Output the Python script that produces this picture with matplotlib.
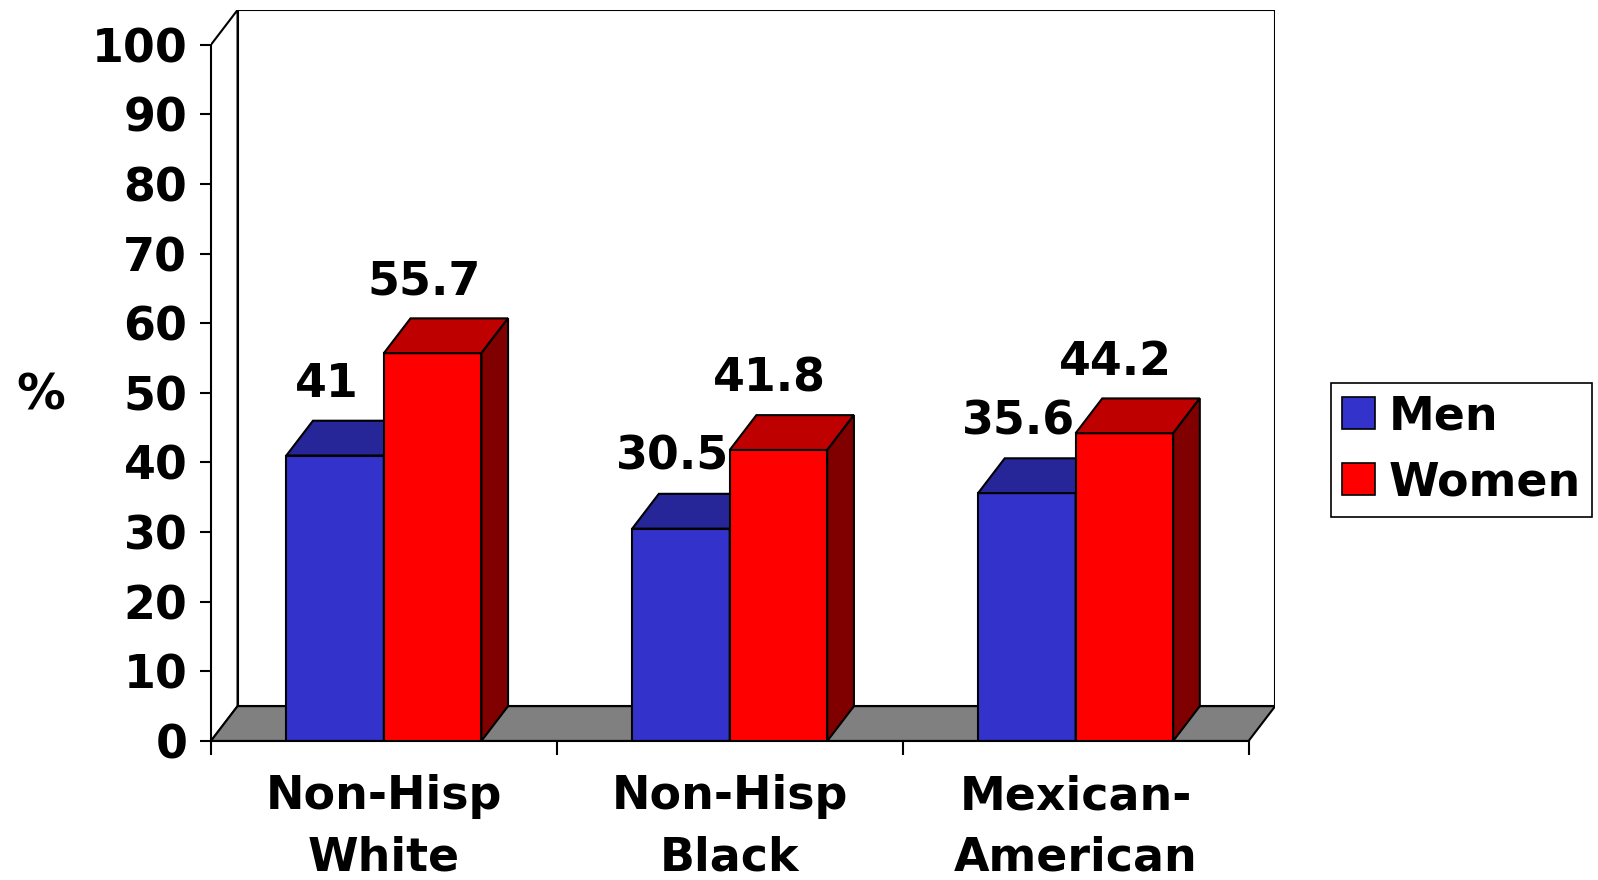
import matplotlib
matplotlib.use("Agg")
import matplotlib.pyplot as plt
from matplotlib.patches import Polygon, Rectangle

groups = ["Non-Hisp\nWhite", "Non-Hisp\nBlack", "Mexican-\nAmerican"]
series = ["Men", "Women"]
men = [41, 30.5, 35.6]
women = [55.7, 41.8, 44.2]
yticks = [0, 10, 20, 30, 40, 50, 60, 70, 80, 90, 100]

front = {"Men": "#3333CC", "Women": "#FF0000"}
top = {"Men": "#262699", "Women": "#BF0000"}
side = {"Men": "#1A1A66", "Women": "#800000"}

plt.rcParams["font.family"] = "DejaVu Sans"
plt.rcParams["font.weight"] = "bold"
fs = 33

fig = plt.figure(figsize=(15.98, 8.8), dpi=100)
ax = fig.add_axes([0.132, 0.158, 0.666, 0.8307])

n = len(groups)
dx, dy = 0.077, 5.0   # depth offset of the 3D look
ymax = 100
ax.set_xlim(0, n + dx)
ax.set_ylim(0, ymax + dy)
lw = 1.5

# walls and floor
ax.add_patch(Polygon([(0, 0), (dx, dy), (dx, ymax + dy), (0, ymax)],
                     closed=True, facecolor="white", edgecolor="black", lw=lw, zorder=0))
ax.add_patch(Rectangle((dx, dy), n, ymax, facecolor="white", edgecolor="black", lw=lw, zorder=0))
ax.add_patch(Polygon([(0, 0), (n, 0), (n + dx, dy), (dx, dy)],
                     closed=True, facecolor="#808080", edgecolor="black", lw=lw, zorder=0.5))

w = 0.282
gap = (1 - 2 * w) / 2

def bar3d(x, v, key, z):
    ax.add_patch(Rectangle((x, 0), w, v, facecolor=front[key], edgecolor="black", lw=lw, zorder=z))
    ax.add_patch(Polygon([(x, v), (x + w, v), (x + w + dx, v + dy), (x + dx, v + dy)],
                         closed=True, facecolor=top[key], edgecolor="black", lw=lw, zorder=z))
    ax.add_patch(Polygon([(x + w, 0), (x + w + dx, dy), (x + w + dx, v + dy), (x + w, v)],
                         closed=True, facecolor=side[key], edgecolor="black", lw=lw, zorder=z))
    ax.text(x + w / 2 - 0.025, v + dy + 2.0, f"{v:g}", ha="center", va="bottom",
            fontsize=fs, fontweight="bold", zorder=5)

for i in range(n):
    bar3d(i + gap, men[i], "Men", 2)
    bar3d(i + gap + w, women[i], "Women", 3)

# axes styling
for s in ["top", "right"]:
    ax.spines[s].set_visible(False)
ax.spines["left"].set_bounds(0, ymax)
ax.spines["bottom"].set_bounds(0, n)
ax.spines["left"].set_linewidth(lw)
ax.spines["bottom"].set_linewidth(lw)
ax.set_yticks(yticks)
ax.set_yticklabels([str(t) for t in yticks], fontsize=fs, fontweight="bold")
ax.tick_params(axis="y", length=8, width=lw, pad=9)
ax.set_xticks([i + 0.5 for i in range(n)])
ax.set_xticklabels(groups, fontsize=fs, fontweight="bold", linespacing=1.45)
ax.set_xticks(range(n + 1), minor=True)
ax.tick_params(axis="x", which="major", length=0, pad=24)
ax.tick_params(axis="x", which="minor", length=10, width=lw)

fig.text(41 / 1598, 1 - 395 / 880, "%", fontsize=35, fontweight="bold", ha="center", va="center")

handles = [Rectangle((0, 0), 1, 1, facecolor=front[k], edgecolor="black", lw=1.2) for k in series]
leg = fig.legend(handles, series, loc="upper left", bbox_to_anchor=(1331 / 1598, 1 - 383 / 880),
                 prop={"size": fs, "weight": "bold"}, handlelength=0.7, handleheight=0.7,
                 handletextpad=0.3, borderpad=0.25, labelspacing=0.45, borderaxespad=0,
                 fancybox=False, framealpha=1)
leg.get_frame().set_edgecolor("black")
leg.get_frame().set_linewidth(1.2)

fig.savefig("out.png", dpi=100)
